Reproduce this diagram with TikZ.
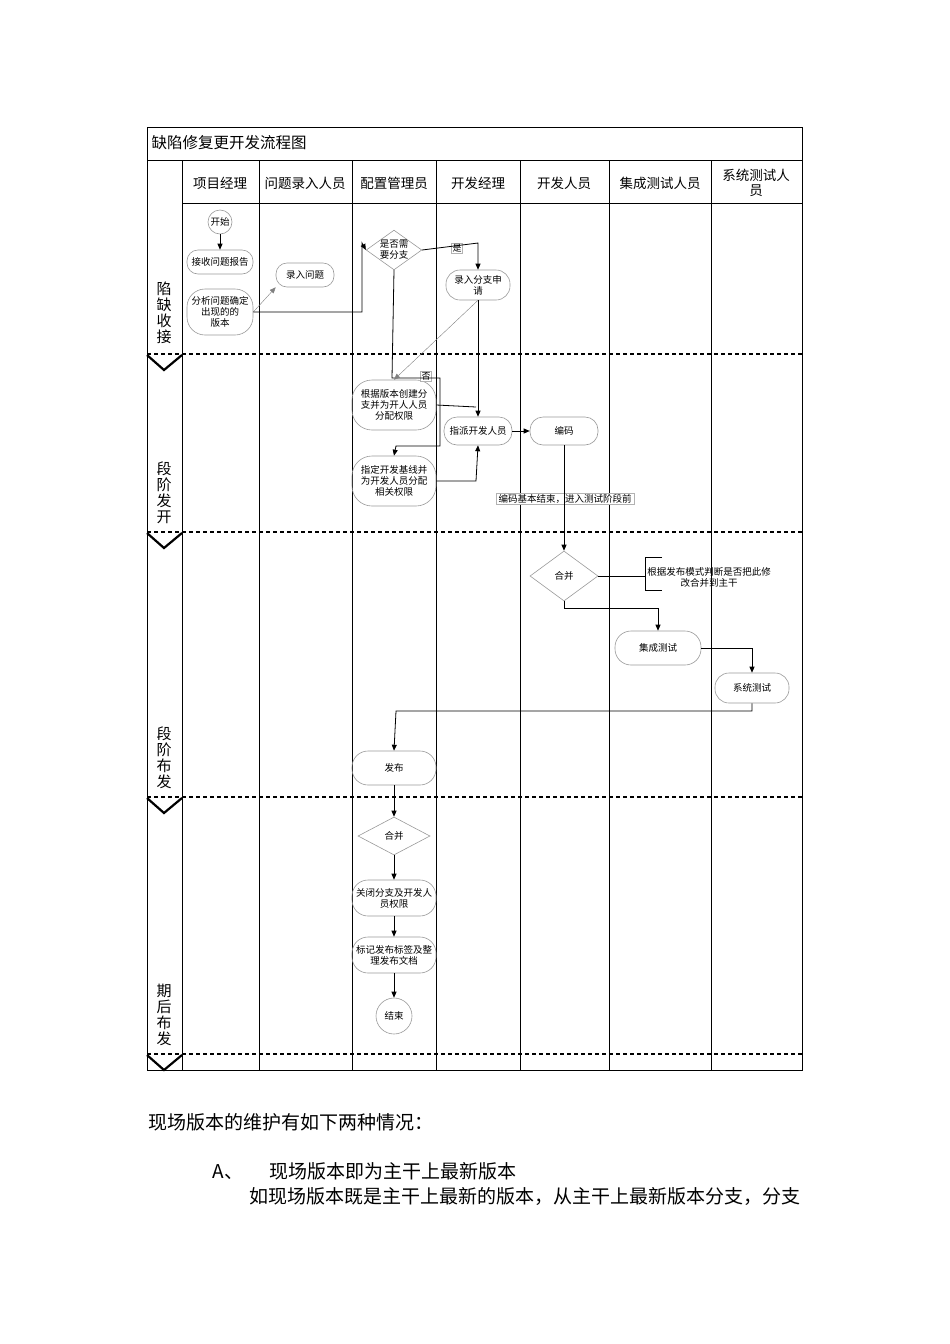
\documentclass[tikz,border=0pt]{standalone}
\usepackage{fontspec}
\setmainfont{Noto Sans CJK SC}
\usetikzlibrary{shapes.geometric, arrows.meta, positioning}

\begin{document}
\begin{tikzpicture}
  [
  x=1pt, y=-1pt,
  % rounded step
  block/.style = {rectangle, rounded corners=11pt, draw=gray!80, semithick,
    inner sep=1pt, align=center, font=\fontsize{9.5}{11}\selectfont},
  % decision
  choice/.style = {diamond, aspect=1.4, draw=gray!80, semithick,
    inner sep=0pt, align=center, font=\fontsize{9.5}{11}\selectfont},
  % circle
  bulat/.style = {circle, draw=gray!80, semithick, inner sep=0pt,
    font=\fontsize{9.5}{11}\selectfont},
  % line
  line/.style = {draw, thick, -{Triangle[length=6pt,width=5pt]}},
  thin line/.style = {draw, gray, -{Triangle[length=6pt,width=5pt]}},
  head/.style = {font=\fontsize{13.5}{15}\selectfont, align=center},
  stage/.style = {font=\fontsize{15}{16}\selectfont, align=center},
  body/.style = {anchor=west, font=\fontsize{19}{20}\selectfont},
  sep/.style = {line width=1.8pt, dash pattern=on 4pt off 3pt},
  ]
  \useasboundingbox (0,0) rectangle (950,1344);

  % frame
  \draw (147,127) rectangle (802,1070);
  \draw (147,160) -- (802,160);
  \draw (182,203) -- (802,203);
  \foreach \x in {182,259,352,436,520,609,711}
    \draw (\x,160) -- (\x,1070);
  \node [head, anchor=west, font=\fontsize{15.5}{17}\selectfont] (title) at (148,143) {缺陷修复更开发流程图};

  % headers
  \node [head] (h1) at (220,183) {项目经理};
  \node [head] (h2) at (305,183) {问题录入人员};
  \node [head] (h3) at (394,183) {配置管理员};
  \node [head] (h4) at (478,183) {开发经理};
  \node [head] (h5) at (564,183) {开发人员};
  \node [head] (h6) at (660,183) {集成测试人员};
  \node [head, text width=80pt] (h7) at (756,183) {系统测试人\\员};

  % stages
  \foreach \y in {354,532,797,1054} {
    \draw [sep] (147,\y) -- (802,\y);
    \draw [line width=2.2pt] (147,\y+1) -- (164,\y+16) -- (182,\y+1);
  }
  \node [stage] (s1) at (164,313) {陷\\缺\\收\\接};
  \node [stage] (s2) at (164,493) {段\\阶\\发\\开};
  \node [stage] (s3) at (164,758) {段\\阶\\布\\发};
  \node [stage] (s4) at (164,1015) {期\\后\\布\\发};

  % nodes
  \node [bulat, minimum size=24pt] (start) at (220,222) {开始};
  \node [block, minimum width=66pt, minimum height=24pt] (recv) at (220,262) {接收问题报告};
  \node [block, minimum width=66pt, minimum height=46pt, rounded corners=18pt] (anal) at (220,312) {分析问题确定\\出现的的\\版本};
  \node [block, minimum width=58pt, minimum height=24pt] (enter) at (305,275) {录入问题};
  \node [choice, minimum width=52pt, minimum height=38pt] (need) at (394,250) {是否需\\要分支};
  \node [block, minimum width=64pt, minimum height=30pt, rounded corners=14pt] (apply) at (478,285) {录入分支申\\请};
  \node [block, minimum width=84pt, minimum height=50pt, rounded corners=20pt] (create) at (394,405) {根据版本创建分\\支并为开人人员\\分配权限};
  \node [block, minimum width=68pt, minimum height=28pt, rounded corners=13pt] (assign) at (478,431) {指派开发人员};
  \node [block, minimum width=68pt, minimum height=28pt, rounded corners=13pt] (code) at (564,431) {编码};
  \node [block, minimum width=84pt, minimum height=50pt, rounded corners=20pt] (base) at (394,481) {指定开发基线并\\为开发人员分配\\相关权限};
  \node [draw=gray!60, fill=white, inner sep=1pt, minimum width=138pt,
    font=\fontsize{9.5}{11}\selectfont] (note1) at (565,499) {编码基本结束，进入测试阶段前};
  \node [align=center, font=\fontsize{9.5}{11}\selectfont] (note2) at (709,577) {根据发布模式判断是否把此修\\改合并到主干};
  \node [choice, minimum width=68pt, minimum height=50pt] (merge) at (564,576) {合并};
  \node [block, minimum width=86pt, minimum height=34pt, rounded corners=16pt] (integ) at (658,648) {集成测试};
  \node [block, minimum width=74pt, minimum height=30pt, rounded corners=14pt] (sys) at (752,688) {系统测试};
  \node [block, minimum width=84pt, minimum height=34pt, rounded corners=16pt] (pub) at (394,768) {发布};
  \node [choice, minimum width=72pt, minimum height=38pt] (merge2) at (394,836) {合并};
  \node [block, minimum width=84pt, minimum height=36pt, rounded corners=16pt] (close) at (394,898) {关闭分支及开发人\\员权限};
  \node [block, minimum width=84pt, minimum height=36pt, rounded corners=16pt] (tag) at (394,955) {标记发布标签及整\\理发布文档};
  \node [bulat, minimum size=36pt] (end) at (394,1016) {结束};
  \node [draw=gray!60, fill=white, inner sep=1pt, font=\fontsize{9}{10}\selectfont] (yes) at (457,248) {是};
  \node [draw=gray!60, fill=white, inner sep=1pt, font=\fontsize{9}{10}\selectfont] (no) at (426,376) {否};

  % path
  \path [line] (start) -- (recv);
  \path [thin line] (anal.east) -- (enter.south west);
  \path [line] (anal.east) -- (362,312) -- (362,243) -- (need.west);
  \path [line] (need.east) -- (478,243) -- (apply.north);
  \path [line] (need.south) -- (392,378) -- (440,378) -- (440,446) -- (396,446) -- (base.north);
  \path [thin line] (apply.south) -- (create.north);
  \path [line] (apply.south) -- (assign.north);
  \path [draw, thick] (create.east) -- (476,407);
  \path [line] (base.east) -- (476,481) -- (assign.south);
  \path [line] (assign) -- (code);
  \path [line] (code.south) -- (merge.north);
  \path [draw, thick] (merge.east) -- (645,576);
  \draw [thick] (662,557) -- (645,557) -- (645,590) -- (662,590);
  \path [line] (merge.south) -- (564,608) -- (658,608) -- (integ.north);
  \path [line] (integ.east) -- (752,648) -- (sys.north);
  \path [line] (sys.south) -- (752,711) -- (396,711) -- (pub.north);
  \path [line] (pub) -- (merge2);
  \path [line] (merge2) -- (close);
  \path [line] (close) -- (tag);
  \path [line] (tag) -- (end);

  % text below
  \node [body] (p1) at (145,1122) {现场版本的维护有如下两种情况：};
  \node [body] (p2) at (209,1171) {A、\hspace{26pt}现场版本即为主干上最新版本};
  \node [body] (p3) at (246,1196) {如现场版本既是主干上最新的版本，从主干上最新版本分支，分支};
\end{tikzpicture}
\end{document}
